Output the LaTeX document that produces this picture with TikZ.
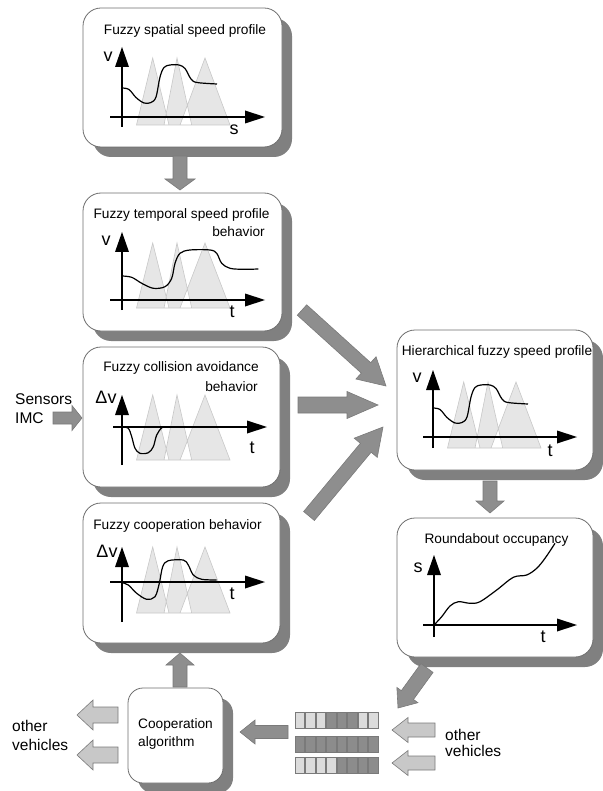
\documentclass[tikz,border=0pt]{standalone}
\usepackage{fontspec}
\setmainfont{Liberation Sans}
\usetikzlibrary{calc,shadows}
\definecolor{shadowgray}{HTML}{808080}
\definecolor{boxline}{HTML}{6E6E6E}
\definecolor{arrfill}{HTML}{8E8E8E}
\definecolor{arrline}{HTML}{7A7A7A}
\definecolor{lightarr}{HTML}{C8C8C8}
\definecolor{trifill}{HTML}{E6E6E6}
\definecolor{triline}{HTML}{C8C8C8}
\definecolor{bitlight}{HTML}{DCDCDC}
\definecolor{bitdark}{HTML}{8C8C8C}
\newcommand\blockarr[6]{%
  \coordinate (ba-h) at ($(#2)!#5!(#1)$);
  \filldraw[#6] ($(#1)!#3!90:(#2)$) -- ($(ba-h)!#3!90:(#2)$) -- ($(ba-h)!#4!90:(#2)$) -- (#2)
   -- ($(ba-h)!#4!-90:(#2)$) -- ($(ba-h)!#3!-90:(#2)$) -- ($(#1)!#3!-90:(#2)$) -- cycle;}
\newcommand\fuzzytris[2]{%
  \filldraw[tri, even odd rule] (14.5,#2) -- (30.7,#1) -- (47,#2) -- cycle
   (42,#2) -- (55,#1) -- (69.7,#2) -- cycle
   (58,#2) -- (83,#1) -- (108,#2) -- cycle;}
\newcommand\plotaxes[4]{%
  \draw[axisline] (0,#1) -- (0,{#2+18});
  \fill (0,#2) -- (-7,{#2+20}) -- (7,{#2+20}) -- cycle;
  \draw[axisline] (#3,0) -- ({#4-18},0);
  \fill (#4,0) -- ({#4-20},-6.5) -- ({#4-20},6.5) -- cycle;}
\tikzset{
  box/.style={draw=boxline, line width=0.8pt, fill=white, rounded corners=18pt, inner sep=0pt,
    drop shadow={shadow xshift=10pt, shadow yshift=-10pt, fill=shadowgray, opacity=1}},
  title/.style={font=\fontsize{13.7}{16}\selectfont, inner sep=0pt},
  axlabel/.style={font=\fontsize{18}{20}\selectfont, inner sep=0pt},
  sidelabel/.style={font=\fontsize{15.5}{19}\selectfont, inner sep=0pt, align=left, anchor=west},
  tri/.style={fill=trifill, draw=triline, line width=0.6pt},
  axisline/.style={line width=1.5pt, black},
  curve/.style={line width=1.2pt, black, smooth, tension=0.55},
  darkarrow/.style={fill=arrfill, draw=arrline, line width=0.6pt},
  lightarrow/.style={fill=lightarr, draw=arrline, line width=0.6pt},
  bit/.style={draw=arrline, line width=0.6pt}
}
\begin{document}
\begin{tikzpicture}[x=1pt,y=-1pt]
\useasboundingbox (0,0) rectangle (602,791);

% ---------- boxes ----------
\node[box, minimum width=199pt, minimum height=139pt] (b1) at (182.5,77.5) {};
\node[box, minimum width=199pt, minimum height=138pt] (b2) at (182.5,262) {};
\node[box, minimum width=197pt, minimum height=140pt] (b3) at (181.5,417) {};
\node[box, minimum width=197pt, minimum height=140pt] (b4) at (181.5,573) {};
\node[box, minimum width=196pt, minimum height=140pt] (b5) at (495,400) {};
\node[box, minimum width=196pt, minimum height=139pt] (b6) at (495,587.5) {};
\node[box, rounded corners=15pt, minimum width=95pt, minimum height=95pt] (coop) at (175.5,735.5) {};

% ---------- box 1 ----------
\node[title] (t1) at (185,31) {Fuzzy spatial speed profile};
\begin{scope}[shift={(122,117)}]
  \fuzzytris{-59}{8}
  \plotaxes{10}{-70}{-12}{143}
  \draw[curve] plot coordinates {(0,-29) (7,-27.5) (14,-19.5) (22,-14) (29,-14.5) (34,-20) (38,-40) (42,-49.5) (48,-52) (57,-52) (63,-48.5) (69,-38) (75,-34.5) (95,-33)};
\end{scope}
\node[axlabel] (v1) at (108,57) {v};
\node[axlabel] (s1) at (234,130) {s};

% ---------- box 2 ----------
\node[title] (t2) at (181.5,215) {Fuzzy temporal speed profile};
\node[title, anchor=east] (t2b) at (265,232) {behavior};
\begin{scope}[shift={(122,300)}]
  \fuzzytris{-57}{8}
  \plotaxes{10}{-68}{-12}{143}
  \draw[curve] plot coordinates {(0,-24) (9.7,-22.7) (19.7,-16.7) (31.3,-11.7) (43,-13.3) (49.7,-21.7) (53,-36.7) (58,-46.7) (68,-50) (88,-50) (94.7,-46.7) (99.7,-36.7) (108,-31.7) (121.3,-30.7) (136.3,-31)};
\end{scope}
\node[axlabel] (v2) at (106,241) {v};
\node[axlabel] (tt2) at (232,312) {t};

% ---------- box 3 ----------
\node[title] (t3) at (181,368) {Fuzzy collision avoidance};
\node[title, anchor=east] (t3b) at (258,387) {behavior};
\begin{scope}[shift={(122,427)}]
  \fuzzytris{-32}{33}
  \plotaxes{38}{-32}{-9}{145}
  \draw[curve] plot coordinates {(0,0) (6.3,1.3) (9.7,9.7) (13,21.3) (18,26.3) (26.3,25.7) (31.3,19.7) (34.7,8) (39.7,0.7) (43,0.3)};
\end{scope}
\node[axlabel] (dv3) at (106,397) {Δv};
\node[axlabel] (tt3) at (252,448) {t};
\node[sidelabel] (sens) at (15,409) {Sensors\\IMC};

% ---------- box 4 ----------
\node[title] (t4) at (177.5,526) {Fuzzy cooperation behavior};
\begin{scope}[shift={(122,582)}]
  \fuzzytris{-35}{31}
  \plotaxes{40}{-35}{-12}{143}
  \draw[curve] plot coordinates {(0,0.7) (6.3,3) (14.7,11.3) (24.7,17.3) (33,14.7) (37.3,1.3) (40.7,-15.3) (46.3,-21.3) (61.3,-22) (66.3,-17) (71.3,-7) (79.7,-2.7) (94.7,-2)};
\end{scope}
\node[axlabel] (dv4) at (107,551) {Δv};
\node[axlabel] (tt4) at (232,594) {t};

% ---------- box 5 ----------
\node[title] (t5) at (497,352) {Hierarchical fuzzy speed profile};
\begin{scope}[shift={(433,437)}]
  \fuzzytris{-55}{11}
  \plotaxes{11}{-67}{-10}{144}
  \draw[curve] plot coordinates {(0,-29) (7,-27.5) (14,-19.5) (22,-14) (29,-14.5) (34,-20) (38,-40) (42,-49.5) (48,-52) (57,-52) (63,-48.5) (69,-38) (75,-34.5) (95,-33)};
\end{scope}
\node[axlabel] (v5) at (417,378) {v};
\node[axlabel] (tt5) at (550,451) {t};

% ---------- box 6 ----------
\node[title] (t6) at (496.5,540) {Roundabout occupancy};
\begin{scope}[shift={(434,625)}]
  \plotaxes{12}{-70}{-11}{143}
  \draw[curve] plot coordinates {(0,0) (7.7,-8.3) (16,-19) (24.3,-23.3) (36,-21.7) (46,-23.3) (62.7,-35) (79.3,-47.7) (92.7,-50) (102.7,-56.7) (111,-66.7) (121,-81.7)};
\end{scope}
\node[axlabel] (s6) at (418,568) {s};
\node[axlabel] (tt6) at (543,637) {t};

% ---------- cooperation ----------
\node[sidelabel, font=\fontsize{13.7}{18}\selectfont] (cooptext) at (138,734) {Cooperation\\algorithm};
\node[sidelabel] (ovl) at (12,735) {other\\vehicles};
\node[sidelabel, font=\fontsize{15.5}{16}\selectfont] (ovr) at (445,743) {other\\vehicles};

% ---------- bits ----------
\foreach \i/\c in {0/bitlight,1/bitlight,2/bitlight,3/bitdark,4/bitdark,5/bitdark,6/bitlight,7/bitlight}
  \draw[bit, fill=\c] ({295+\i*10.5},712) rectangle ++(9.5,16);
\foreach \i in {0,...,7}
  \draw[bit, fill=bitdark] ({295+\i*10.5},736) rectangle ++(9.5,16);
\foreach \i/\c in {0/bitlight,1/bitlight,2/bitlight,3/bitlight,4/bitdark,5/bitdark,6/bitdark,7/bitdark}
  \draw[bit, fill=\c] ({295+\i*10.5},757) rectangle ++(9.5,16);

% ---------- block arrows ----------
\coordinate (a1s) at (180,156); \coordinate (a1e) at (180,190);
\blockarr{a1s}{a1e}{7pt}{15pt}{11pt}{darkarrow}
\coordinate (a2s) at (180,687); \coordinate (a2e) at (180,653);
\blockarr{a2s}{a2e}{7pt}{14pt}{12pt}{darkarrow}
\coordinate (a3s) at (302,310); \coordinate (a3e) at (386,386);
\blockarr{a3s}{a3e}{7pt}{15pt}{27pt}{darkarrow}
\coordinate (a4s) at (298,405); \coordinate (a4e) at (378,405);
\blockarr{a4s}{a4e}{8pt}{13.5pt}{31pt}{darkarrow}
\coordinate (a5s) at (309,516); \coordinate (a5e) at (383,427);
\blockarr{a5s}{a5e}{7pt}{15pt}{27pt}{darkarrow}
\coordinate (a6s) at (490,481); \coordinate (a6e) at (490,513);
\blockarr{a6s}{a6e}{7pt}{14pt}{12pt}{darkarrow}
\coordinate (a7s) at (427,668); \coordinate (a7e) at (398,708);
\blockarr{a7s}{a7e}{7.5pt}{13pt}{16pt}{darkarrow}
\coordinate (a8s) at (288,732); \coordinate (a8e) at (240,732);
\blockarr{a8s}{a8e}{6.5pt}{12pt}{15pt}{darkarrow}
\coordinate (a9s) at (118,715); \coordinate (a9e) at (77,715);
\blockarr{a9s}{a9e}{8pt}{15pt}{16pt}{lightarrow}
\coordinate (a10s) at (118,755); \coordinate (a10e) at (77,755);
\blockarr{a10s}{a10e}{8pt}{15pt}{16pt}{lightarrow}
\coordinate (a11s) at (435,730); \coordinate (a11e) at (392,730);
\blockarr{a11s}{a11e}{7pt}{12.5pt}{16pt}{lightarrow}
\coordinate (a12s) at (435,763); \coordinate (a12e) at (392,763);
\blockarr{a12s}{a12e}{7pt}{12.5pt}{16pt}{lightarrow}
\coordinate (a13s) at (53,418); \coordinate (a13e) at (82,418);
\blockarr{a13s}{a13e}{6pt}{12.5pt}{10pt}{darkarrow}
\end{tikzpicture}
\end{document}
